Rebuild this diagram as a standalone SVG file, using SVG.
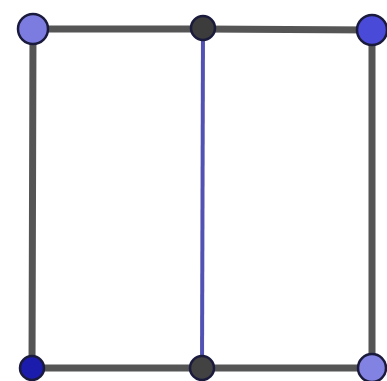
<svg xmlns="http://www.w3.org/2000/svg" width="387" height="381" viewBox="0 0 387 381">
<style>
.edge{stroke:#555555;stroke-width:7;stroke-linecap:round;fill:none}
.mid{stroke:#5252b4;stroke-width:4;fill:none}
.n{stroke:#1a1a3c;stroke-width:2.5}
</style>
<rect width="387" height="381" fill="#ffffff"/>
<g id="connectors">
<line class="edge" x1="33" y1="29" x2="203" y2="29"/>
<line class="edge" x1="203" y1="29" x2="372" y2="30"/>
<line class="edge" x1="33" y1="29" x2="32" y2="368"/>
<line class="edge" x1="372" y1="30" x2="372" y2="368"/>
<line class="edge" x1="32" y1="368" x2="202" y2="368"/>
<line class="edge" x1="202" y1="368" x2="372" y2="368"/>
<line class="mid" x1="203" y1="29" x2="202" y2="368"/>
</g>
<g id="n1"><circle class="n" cx="33" cy="29" r="15" fill="#7c7ce0"/></g>
<g id="n2"><circle class="n" cx="203" cy="28" r="12" fill="#3c3c3c"/></g>
<g id="n3"><circle class="n" cx="372" cy="30" r="15" fill="#4a4ad8"/></g>
<g id="n4"><circle class="n" cx="32" cy="368" r="12" fill="#1c1cac"/></g>
<g id="n5"><circle class="n" cx="202" cy="368" r="12" fill="#424242"/></g>
<g id="n6"><circle class="n" cx="372" cy="368" r="14" fill="#8282e2"/></g>
</svg>
